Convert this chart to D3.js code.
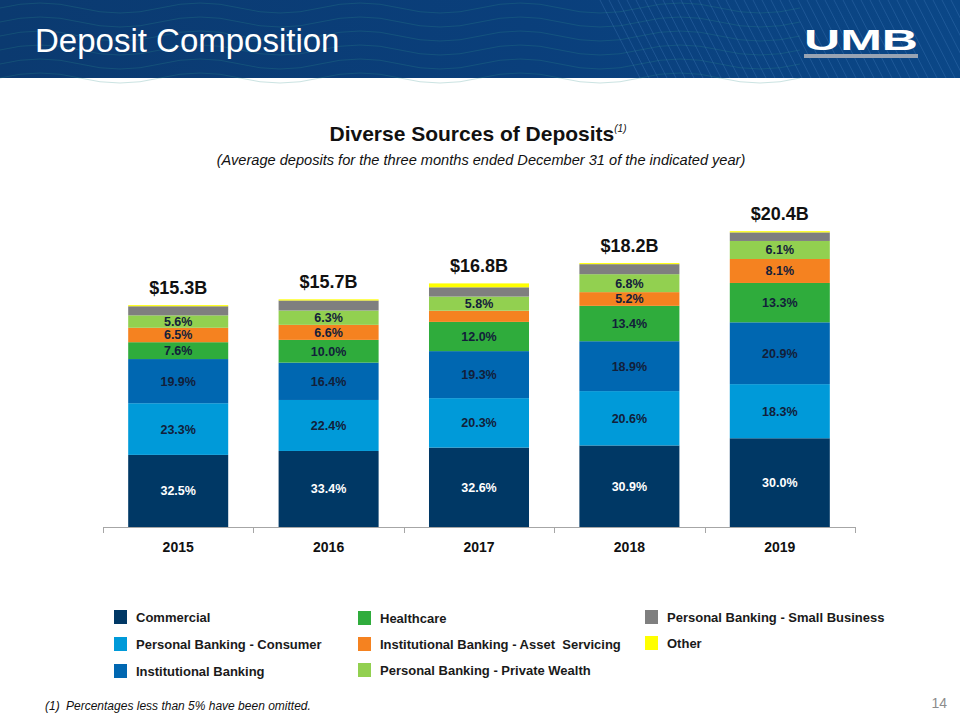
<!DOCTYPE html>
<html>
<head>
<meta charset="utf-8">
<script src="https://cdn.jsdelivr.net/npm/d3@7"></script>
<style>
  body { margin: 0; background: #fff; }
  svg { display: block; font-family: "Liberation Sans", Arial, sans-serif; }
</style>
</head>
<body>
<div id="chart-area"></div>
<script>
// data (percent of each year's total; totals in $B)
var years  = ["2015", "2016", "2017", "2018", "2019"];
var totals = [15.3, 15.7, 16.8, 18.2, 20.4];
var totalLabels = ["$15.3B", "$15.7B", "$16.8B", "$18.2B", "$20.4B"];

var seriesNames = [
    "Commercial",
    "Personal Banking - Consumer",
    "Institutional Banking",
    "Healthcare",
    "Institutional Banking - Asset  Servicing",
    "Personal Banking - Private Wealth",
    "Personal Banking - Small Business",
    "Other"
];
var commercial     = [32.5, 33.4, 32.6, 30.9, 30.0];
var consumer       = [23.3, 22.4, 20.3, 20.6, 18.3];
var institutional  = [19.9, 16.4, 19.3, 18.9, 20.9];
var healthcare     = [7.6, 10.0, 12.0, 13.4, 13.3];
var assetServicing = [6.5, 6.6, 4.6, 5.2, 8.1];
var privateWealth  = [5.6, 6.3, 5.8, 6.8, 6.1];
var smallBusiness  = [4.1, 4.4, 3.8, 3.8, 2.9];
var other          = [0.5, 0.5, 1.6, 0.4, 0.4];

var colors = ["#003865", "#009ad9", "#0067b1", "#2fac3c", "#f58220", "#92d050", "#7f7f7f", "#ffff00"];

var seriesValues = [commercial, consumer, institutional, healthcare, assetServicing, privateWealth, smallBusiness, other];

var W = 960, H = 720;
var svg = d3.select("#chart-area")
    .append("svg")
        .attr("width", W)
        .attr("height", H);

// ---- header band
var defs = svg.append("defs");
var grad = defs.append("linearGradient").attr("id", "hdr").attr("x1", 0).attr("x2", 1);
grad.append("stop").attr("offset", "0%").attr("stop-color", "#0b3a70");
grad.append("stop").attr("offset", "55%").attr("stop-color", "#0a3f7b");
grad.append("stop").attr("offset", "100%").attr("stop-color", "#0b4787");
svg.append("rect").attr("width", W).attr("height", 78).attr("fill", "url(#hdr)");

var deco = svg.append("g").attr("fill", "none").attr("stroke-width", 1);
d3.range(0, 6).forEach(function(i){
    var y0 = 8 + i * 14;
    deco.append("path")
        .attr("d", "M0," + y0 + " q40,-10 80,0 t80,0 t80,0 t80,0 t80,0 t80,0 t80,0 t80,0 t80,0 t80,0")
        .attr("stroke", "#2f8f8a").attr("stroke-opacity", 0.25);
});
d3.range(0, 40).forEach(function(i){
    var x0 = 600 + i * 9;
    deco.append("line")
        .attr("x1", x0).attr("y1", 0).attr("x2", x0 + 40).attr("y2", 78)
        .attr("stroke", "#4d86c4").attr("stroke-opacity", 0.3);
});

svg.append("text")
    .attr("x", 35).attr("y", 52)
    .attr("fill", "#fff")
    .attr("font-size", "33px")
    .text("Deposit Composition");

svg.append("text")
    .attr("x", 804).attr("y", 50)
    .attr("fill", "#fff")
    .attr("font-size", "30px")
    .attr("font-weight", "bold")
    .attr("textLength", 114)
    .attr("lengthAdjust", "spacingAndGlyphs")
    .text("UMB");
svg.append("rect")
    .attr("x", 804).attr("y", 54).attr("width", 114).attr("height", 4)
    .attr("fill", "#98a3b3");

// ---- titles
var title = svg.append("text")
    .attr("x", 478).attr("y", 141)
    .attr("text-anchor", "middle")
    .attr("font-size", "21px")
    .attr("font-weight", "bold")
    .attr("fill", "#111");
title.append("tspan").text("Diverse Sources of Deposits");
title.append("tspan")
    .attr("dy", -9).attr("font-size", "10px").attr("font-weight", "normal").attr("font-style", "italic")
    .text("(1)");

svg.append("text")
    .attr("x", 481).attr("y", 165)
    .attr("text-anchor", "middle")
    .attr("font-size", "14.6px")
    .attr("font-style", "italic")
    .attr("fill", "#111")
    .text("(Average deposits for the three months ended December 31 of the indicated year)");

// ---- chart
var base = 527;
var x = d3.scaleBand()
    .domain(years)
    .range([103, 855])
    .paddingInner(0.335)
    .paddingOuter(0.1675);
var y = d3.scaleLinear()
    .domain([0, 22])
    .range([base, base - 22 * 14.5]);

var rows = years.map(function(yr, i){
    var r = { year: yr, total: totals[i] };
    seriesNames.forEach(function(s, k){
        r[s] = totals[i] * seriesValues[k][i] / 100;
        r[s + "_pct"] = seriesValues[k][i];
    });
    return r;
});

var stacked = d3.stack().keys(seriesNames)(rows);

var layers = svg.append("g").selectAll("g")
    .data(stacked)
    .enter().append("g")
        .attr("fill", function(d, i){ return colors[i]; });

layers.selectAll("rect")
    .data(function(d){ return d; })
    .enter().append("rect")
        .attr("x", function(d){ return x(d.data.year); })
        .attr("y", function(d){ return y(d[1]); })
        .attr("width", x.bandwidth())
        .attr("height", function(d){ return y(d[0]) - y(d[1]); });

// percentage labels (values under 5% omitted)
layers.each(function(layer, k){
    d3.select(this).selectAll("text")
        .data(layer.filter(function(d){ return d.data[layer.key + "_pct"] >= 5; }))
        .enter().append("text")
            .attr("x", function(d){ return x(d.data.year) + x.bandwidth() / 2; })
            .attr("y", function(d){ return (y(d[0]) + y(d[1])) / 2; })
            .attr("dy", "0.36em")
            .attr("text-anchor", "middle")
            .attr("font-family", "'Liberation Sans Narrow', 'Arial Narrow', Arial, sans-serif")
            .attr("font-size", "12.5px")
            .attr("font-weight", "bold")
            .attr("fill", k === 0 ? "#ffffff" : "#12203a")
            .text(function(d){ return d.data[layer.key + "_pct"].toFixed(1) + "%"; });
});

// totals above bars
svg.append("g").selectAll("text")
    .data(rows)
    .enter().append("text")
        .attr("x", function(d){ return x(d.year) + x.bandwidth() / 2; })
        .attr("y", function(d){ return y(d.total) - 11; })
        .attr("text-anchor", "middle")
        .attr("font-size", "18px")
        .attr("font-weight", "bold")
        .attr("fill", "#111")
        .text(function(d, i){ return totalLabels[i]; });

// x axis
var xAxisGroup = svg.append("g")
    .attr("transform", "translate(0," + base + ")")
    .call(d3.axisBottom(x).tickSize(0).tickPadding(15));
xAxisGroup.select(".domain").attr("stroke", "#a6a6a6").attr("d", "M103,0.5H855");
xAxisGroup.selectAll(".tick text")
    .attr("font-family", "'Liberation Sans Narrow', 'Arial Narrow', Arial, sans-serif")
    .attr("font-size", "14px")
    .attr("font-weight", "bold")
    .attr("fill", "#111");
var step = x.step();
var bounds = years.map(function(yr){ return x(yr) - step * x.paddingInner() / 2; });
bounds.push(x(years[years.length - 1]) + x.bandwidth() + step * x.paddingInner() / 2);
xAxisGroup.selectAll(".bound")
    .data(bounds)
    .enter().append("line")
        .attr("class", "bound")
        .attr("x1", function(d){ return Math.round(d) + 0.5; })
        .attr("x2", function(d){ return Math.round(d) + 0.5; })
        .attr("y1", 0).attr("y2", 6)
        .attr("stroke", "#a6a6a6");

// ---- legend
var legendPos = [
    [114, 617], [114, 644], [114, 671],
    [358, 618], [358, 644], [358, 670],
    [645, 617], [645, 643]
];
var legend = svg.append("g").selectAll("g")
    .data(seriesNames)
    .enter().append("g")
        .attr("transform", function(d, i){ return "translate(" + legendPos[i][0] + "," + legendPos[i][1] + ")"; });
legend.append("rect")
    .attr("x", 0).attr("y", -7)
    .attr("width", 13).attr("height", 14)
    .attr("fill", function(d, i){ return colors[i]; });
legend.append("text")
    .attr("x", 22).attr("y", 0)
    .attr("dy", "0.36em")
    .attr("font-size", "13px")
    .attr("font-weight", "bold")
    .attr("fill", "#1a1a1a")
    .style("white-space", "pre")
    .text(function(d){ return d; });

// ---- footnote + page number
svg.append("text")
    .attr("x", 45).attr("y", 710)
    .attr("font-size", "12px").attr("font-style", "italic").attr("fill", "#111")
    .text("(1)");
svg.append("text")
    .attr("x", 66).attr("y", 710)
    .attr("font-size", "12px").attr("font-style", "italic").attr("fill", "#111")
    .text("Percentages less than 5% have been omitted.");
svg.append("text")
    .attr("x", 947).attr("y", 708)
    .attr("text-anchor", "end")
    .attr("font-size", "14px").attr("fill", "#8c8c8c")
    .text("14");
</script>
</body>
</html>
